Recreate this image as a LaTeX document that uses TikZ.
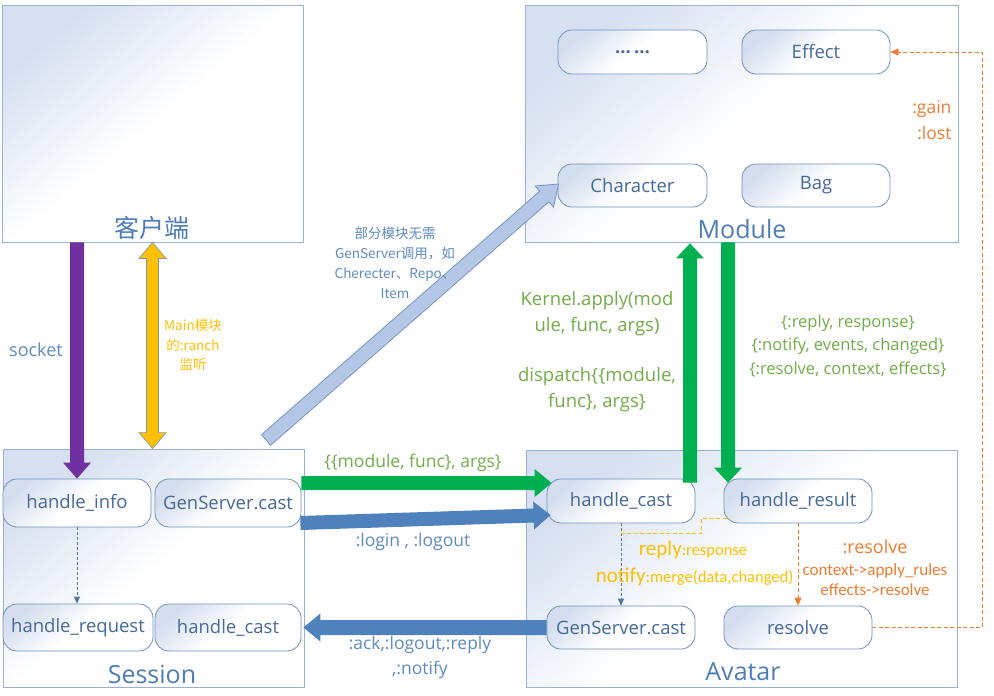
\documentclass[tikz,border=0pt]{standalone}
\usepackage{fontspec}
\setmainfont{Open Sans}
\newfontfamily\cjk{Noto Sans CJK SC}
\newfontfamily\calf{Carlito}
\usetikzlibrary{calc,arrows.meta}
\definecolor{bboxc}{HTML}{9AB2D2}
\definecolor{rboxc}{HTML}{6F92BE}
\definecolor{bigtop}{HTML}{D6E0F0}
\definecolor{rtop}{HTML}{D4DEEF}
\definecolor{ntext}{HTML}{46699B}
\definecolor{titlec}{HTML}{4E7DB6}
\definecolor{lblue}{HTML}{5E8AC2}
\definecolor{lgreen}{HTML}{70AD47}
\definecolor{myellow}{HTML}{FFC000}
\definecolor{morange}{HTML}{ED7D31}
\definecolor{mpurple}{HTML}{7030A0}
\definecolor{mgreen}{HTML}{00B050}
\definecolor{mblue}{HTML}{4F81BD}
\definecolor{diagfill}{HTML}{B4C7E7}
\definecolor{diagdraw}{HTML}{6C8EBF}
\definecolor{ygray}{HTML}{8497B0}
\definecolor{dblue}{HTML}{5077A8}
\newcommand\blockarrow[6][]{%
  \path #2 coordinate (baS) #3 coordinate (baE);
  \coordinate (baH) at ($(baE)!#6!(baS)$);
  \path[#1] ($(baS)!#4!90:(baE)$) -- ($(baH)!#4!-90:(baS)$) -- ($(baH)!#5!-90:(baS)$) -- (baE) -- ($(baH)!#5!90:(baS)$) -- ($(baH)!#4!90:(baS)$) -- ($(baS)!#4!-90:(baE)$) -- cycle;}
\newcommand\dblockarrow[6][]{%
  \path #2 coordinate (baS) #3 coordinate (baE);
  \coordinate (baH) at ($(baE)!#6!(baS)$);
  \coordinate (baT) at ($(baS)!#6!(baE)$);
  \path[#1] (baS) -- ($(baT)!#5!90:(baE)$) -- ($(baT)!#4!90:(baE)$) -- ($(baH)!#4!-90:(baS)$) -- ($(baH)!#5!-90:(baS)$) -- (baE) -- ($(baH)!#5!90:(baS)$) -- ($(baH)!#4!90:(baS)$) -- ($(baT)!#4!-90:(baE)$) -- ($(baT)!#5!-90:(baE)$) -- cycle;}
\begin{document}
\begin{tikzpicture}[x=1pt,y=-1pt,
  bigbox/.style={draw=bboxc, line width=0.8pt, top color=bigtop, bottom color=white, middle color=white, shading angle=40, inner sep=0pt},
  rbox/.style={draw=rboxc, line width=0.8pt, rounded corners=14pt, top color=rtop, bottom color=white, middle color=white, shading angle=40, text=ntext, font=\fontsize{18.5}{22}\selectfont, inner sep=0pt},
  titlelbl/.style={text=titlec, font=\fontsize{25}{28}\selectfont, inner sep=0pt},
  bdash/.style={draw=dblue, line width=0.8pt, dash pattern=on 3pt off 2pt, -{Triangle[length=7pt,width=6pt]}},
  odash/.style={draw=morange, line width=0.8pt, dash pattern=on 4pt off 2.5pt},
  ydash/.style={draw=myellow, line width=0.8pt, dash pattern=on 4pt off 2.5pt},
  otip/.style={-{Triangle[length=8pt,width=7pt]}}]
\useasboundingbox (0,0) rectangle (994,696);
% big containers
\node[bigbox, minimum width=301pt, minimum height=237pt] (client) at (152.5,123.5) {};
\node[bigbox, minimum width=433pt, minimum height=237pt] (module) at (741.5,123.5) {};
\node[bigbox, minimum width=301pt, minimum height=238pt] (session) at (153.5,568) {};
\node[bigbox, minimum width=431pt, minimum height=237pt] (avatar) at (741.5,568.5) {};
\node[titlelbl] (clientt) at (152,228) {\cjk 客户端};
\node[titlelbl] (modulet) at (742,229) {Module};
\node[titlelbl] (sessiont) at (152,674) {Session};
\node[titlelbl] (avatart) at (743,672) {Avatar};
% module items
\node[rbox, minimum width=149pt, minimum height=44pt] (dots) at (632.5,52) {\textbf{...\,...}};
\node[rbox, minimum width=148pt, minimum height=44pt] (effect) at (816,52) {Effect};
\node[rbox, minimum width=149pt, minimum height=43pt] (character) at (632.5,185.5) {Character};
\node[rbox, minimum width=148pt, minimum height=43pt] (bag) at (816,185.5) {Bag};
% session items
\node[rbox, minimum width=148pt, minimum height=48pt] (hinfo) at (77,503) {handle\_info};
\node[rbox, minimum width=146pt, minimum height=48pt] (sgc) at (228,503) {GenServer.cast};
\node[rbox, minimum width=150pt, minimum height=47pt] (hreq) at (78,627.5) {handle\_request};
\node[rbox, minimum width=146pt, minimum height=47pt] (scast) at (228,627.5) {handle\_cast};
% avatar items
\node[rbox, minimum width=148pt, minimum height=44pt] (acast) at (621,501) {handle\_cast};
\node[rbox, minimum width=148pt, minimum height=44pt] (ares) at (798,501) {handle\_result};
\node[rbox, minimum width=148pt, minimum height=43pt] (agc) at (621,627.5) {GenServer.cast};
\node[rbox, minimum width=148pt, minimum height=43pt] (resolve) at (798,627.5) {resolve};
% dashed connectors
\draw[bdash] (hinfo.south) -- (hinfo.south |- hreq.north);
\draw[bdash] (acast.south) -- (agc.north);
\coordinate (yj) at ($(acast.south)+(0,10)$);
\draw[ydash] ($(ares.south west)+(3,-5)$) -- ++(-25,0) |- (yj);
\draw[odash,otip] (ares.south) -- (resolve.north);
\draw[odash,otip] (resolve.east) -- ++(110,0) |- (effect.east);
% block arrows
\blockarrow[fill=mpurple]{(hinfo.north |- client.south)}{(hinfo.north)}{7pt}{14pt}{16pt}
\dblockarrow[fill=myellow, draw=ygray, line width=0.7pt]{(client.south)}{(client.south |- session.north)}{6pt}{13.5pt}{16pt}
\coordinate (dgs) at (266,440);
\blockarrow[fill=diagfill, draw=diagdraw, line width=0.7pt]{(dgs)}{($(character.west)+(1,-1.5)$)}{7pt}{14pt}{19pt}
\coordinate (g1s) at ($(sgc.east)+(0,-20)$);
\blockarrow[fill=mgreen]{(g1s)}{($(g1s -| acast.west)+(5,0)$)}{7pt}{14pt}{17pt}
\blockarrow[fill=mblue]{($(sgc.east)+(-1,20)$)}{($(acast.west)+(4,14)$)}{7pt}{14pt}{17pt}
\blockarrow[fill=mblue]{(agc.west)}{($(scast.east)+(2,0)$)}{7.5pt}{14pt}{17pt}
\coordinate (gus) at ($(acast.north)+(69,4)$);
\blockarrow[fill=mgreen]{(gus)}{($(gus |- module.south)+(0,1)$)}{7pt}{14pt}{15pt}
\coordinate (gde) at ($(ares.north)+(-70,4)$);
\blockarrow[fill=mgreen]{(gde |- module.south)}{(gde)}{7pt}{14pt}{15pt}
% labels
\node[text=lblue, font=\fontsize{18}{20}\selectfont] (socketl) at (36,350) {socket};
\node[align=center, text=myellow, font=\cjk\fontsize{13.5}{19.5}\selectfont] (mainl) at (193,345) {Main模块\\的:ranch\\监听};
\node[align=center, text=lblue, font=\cjk\fontsize{13.5}{20}\selectfont] (diagl) at (395,263) {部分模块无需\\GenServer调用，如\\Cherecter、Repo、\\Item};
\node[text=lgreen, font=\fontsize{17.5}{20}\selectfont] (g1l) at (413,463) {\{\{module, func\}, args\}};
\node[text=lblue, font=\fontsize{17.5}{20}\selectfont] (b1l) at (413,542) {:login , :logout};
\node[align=center, text=lblue, font=\fontsize{17.5}{25}\selectfont] (b2l) at (420,657) {:ack,:logout,:reply\\,:notify};
\node[align=center, text=lgreen, font=\fontsize{18.5}{26}\selectfont] (kl) at (597,314) {Kernel.apply(mod\\ule, func, args)};
\node[align=center, text=lgreen, font=\fontsize{18.5}{26}\selectfont] (dl) at (597,390) {dispatch\{\{module,\\func\}, args\}};
\node[align=center, text=lgreen, font=\fontsize{16.5}{23.5}\selectfont] (rl) at (848,346) {\{:reply, response\}\\\{:notify, events, changed\}\\\{:resolve, context, effects\}};
\node[align=right, anchor=east, text=morange, font=\fontsize{17.5}{26}\selectfont] (gl) at (955,120) {:gain\\:lost};
\node[text=myellow, inner sep=0pt] (repl) at (693,550) {{\calf\fontsize{21}{22}\selectfont reply}{\calf\fontsize{16.5}{18}\selectfont :response}};
\node[text=myellow, inner sep=0pt] (notl) at (694.5,577) {{\calf\fontsize{21}{22}\selectfont notify}{\calf\fontsize{16.5}{18}\selectfont :merge(data,changed)}};
\node[text=morange, font=\fontsize{18}{20}\selectfont] (resl) at (875,547) {:resolve};
\node[align=center, text=morange, font=\calf\fontsize{17}{20}\selectfont] (ctxl) at (875,580) {context->apply\_rules\\effects->resolve};
\end{tikzpicture}
\end{document}
